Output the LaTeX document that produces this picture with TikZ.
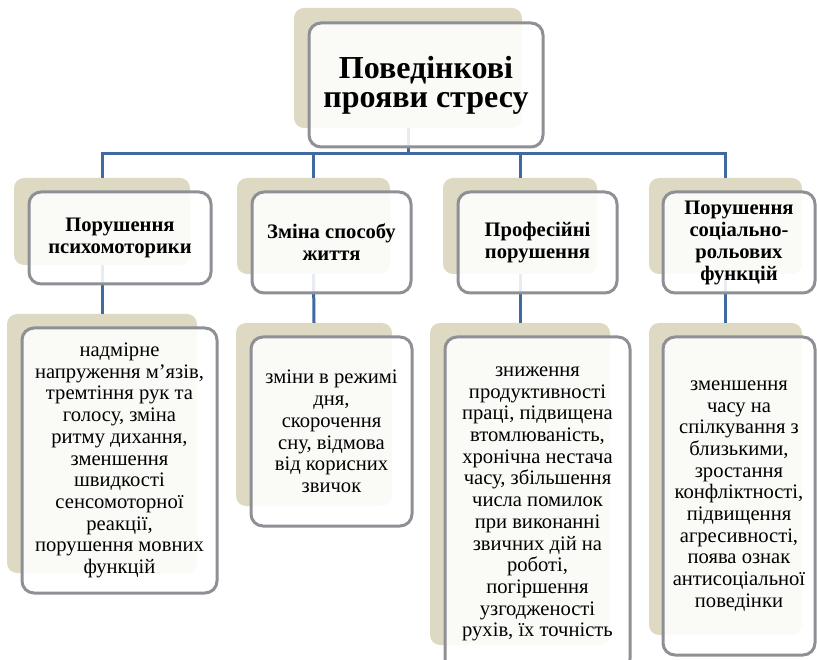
\documentclass[tikz,border=0pt]{standalone}
\usepackage{fontspec}
\setmainfont{Liberation Serif}
\definecolor{tan}{RGB}{221,217,195}
\definecolor{edge}{RGB}{142,144,149}
\definecolor{link}{RGB}{64,105,160}

\begin{document}
\begin{tikzpicture}[x=1pt,y=-1pt,
    back/.style={rectangle, rounded corners=10pt, fill=tan, inner sep=0pt},
    front/.style={rectangle, rounded corners=12pt, draw=edge, line width=3pt,
      fill=white, fill opacity=0.88, text opacity=1, inner sep=0pt, align=center},
    title/.style={font=\fontsize{32}{29}\selectfont\bfseries},
    head/.style={font=\fontsize{20.6}{22}\selectfont\bfseries},
    body/.style={font=\fontsize{20.6}{21.7}\selectfont},
    conn/.style={draw=link, line width=3pt}]
        \useasboundingbox (0,0) rectangle (817,660);
        \clip (0,0) rectangle (817,660);
        % back plates
        \node[back, minimum width=228, minimum height=120] (topbg) at (408,68) {};
        \node[back, minimum width=176, minimum height=87] (c1bg) at (102,221.5) {};
        \node[back, minimum width=153, minimum height=96] (c2bg) at (313.5,226) {};
        \node[back, minimum width=154, minimum height=96] (c3bg) at (520,226) {};
        \node[back, minimum width=153, minimum height=96] (c4bg) at (725.5,226) {};
        \node[back, minimum width=190, minimum height=259] (d1bg) at (102,443.5) {};
        \node[back, minimum width=156, minimum height=183] (d2bg) at (314,414.5) {};
        \node[back, minimum width=180, minimum height=322] (d3bg) at (520,484) {};
        \node[back, minimum width=153, minimum height=312] (d4bg) at (725.5,479) {};
        % links
        \foreach \c in {c1,c2,c3,c4}
            \draw[conn] (topbg.south) -- ++(0,25) -| (\c bg.north);
        \draw[conn] (c1bg.south) -- (d1bg.north);
        \draw[conn] (c2bg.south) -- (d2bg.north);
        \draw[conn] (c3bg.south) -- (d3bg.north);
        \draw[conn] (c4bg.south) -- (d4bg.north);
        % boxes
        \node[front, title, minimum width=234, minimum height=124] (top) at (426,85)
            {Поведінкові\\прояви стресу};
        \node[front, head, minimum width=182, minimum height=92] (c1) at (120,238)
            {Порушення\\психомоторики};
        \node[front, head, minimum width=159, minimum height=101] (c2) at (331.5,242.5)
            {Зміна способу\\життя};
        \node[front, head, minimum width=159, minimum height=101] (c3) at (537.5,242.5)
            {Професійні\\порушення};
        \node[front, head, minimum width=152, minimum height=101] (c4) at (739,242.5)
            {Порушення\\соціально-\\рольових\\функцій};
        \node[front, body, minimum width=195, minimum height=265] (d1) at (119.5,460.5)
            {надмірне\\напруження м’язів,\\тремтіння рук та\\голосу, зміна\\ритму дихання,\\зменшення\\швидкості\\сенсомоторної\\реакції,\\порушення мовних\\функцій};
        \node[front, body, minimum width=161, minimum height=189] (d2) at (331.5,431.5)
            {зміни в режимі\\дня,\\скорочення\\сну, відмова\\від корисних\\звичок};
        \node[front, body, minimum width=185, minimum height=334] (d3) at (537.5,504)
            {зниження\\продуктивності\\праці, підвищена\\втомлюваність,\\хронічна нестача\\часу, збільшення\\числа помилок\\при виконанні\\звичних дій на\\роботі,\\погіршення\\узгодженості\\рухів, їх точність};
        \node[front, body, minimum width=152, minimum height=318] (d4) at (739,496)
            {зменшення\\часу на\\спілкування з\\близькими,\\зростання\\конфліктності,\\підвищення\\агресивності,\\поява ознак\\антисоціальної\\поведінки};
    \end{tikzpicture}
\end{document}
